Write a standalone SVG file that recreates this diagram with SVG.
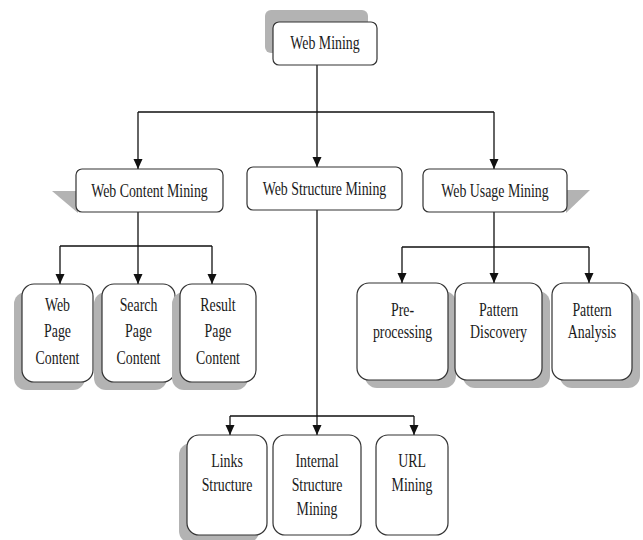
<svg xmlns="http://www.w3.org/2000/svg" width="643" height="540" viewBox="0 0 643 540">
<style>
.box{fill:#fff;stroke:#333;stroke-width:1.2}
.sh{fill:#b3b3b3;stroke:none}
.t{font-family:"Liberation Serif","Times New Roman",serif;font-size:18px;fill:#1a1a1a;text-anchor:middle}
.c{fill:none;stroke:#111;stroke-width:1.3}
</style>
<defs>
<marker id="ah" markerUnits="userSpaceOnUse" markerWidth="10" markerHeight="10" refX="10" refY="4.5" orient="auto">
<path d="M0,0 L10,4.5 L0,9 z" fill="#111"/>
</marker>
</defs>
<g id="connectors">
<path class="c" d="M317,65 V112 M138,112 H494"/>
<path class="c" d="M138,112 V169" marker-end="url(#ah)"/>
<path class="c" d="M317,112 V167" marker-end="url(#ah)"/>
<path class="c" d="M494,112 V169" marker-end="url(#ah)"/>
<path class="c" d="M138,212 V246 M60,246 H212"/>
<path class="c" d="M60,246 V284" marker-end="url(#ah)"/>
<path class="c" d="M138,246 V284" marker-end="url(#ah)"/>
<path class="c" d="M212,246 V284" marker-end="url(#ah)"/>
<path class="c" d="M317,210 V416 M230,416 H414"/>
<path class="c" d="M230,416 V435" marker-end="url(#ah)"/>
<path class="c" d="M317,416 V435" marker-end="url(#ah)"/>
<path class="c" d="M414,416 V435" marker-end="url(#ah)"/>
<path class="c" d="M494,212 V247 M402,247 H589"/>
<path class="c" d="M402,247 V283" marker-end="url(#ah)"/>
<path class="c" d="M494,247 V283" marker-end="url(#ah)"/>
<path class="c" d="M589,247 V283" marker-end="url(#ah)"/>
</g>
<g id="web-mining">
<rect class="sh" x="265" y="10" width="103" height="43" rx="6"/>
<rect class="box" x="273" y="22" width="104" height="43" rx="6"/>
<g transform="translate(325,0) scale(0.77,1)"><text class="t" x="0" y="49">Web Mining</text></g>
</g>
<g id="web-content-mining">
<polygon class="sh" points="52,191 77,191 78,213"/>
<rect class="box" x="76" y="169" width="147" height="43" rx="6"/>
<g transform="translate(149.5,0) scale(0.77,1)"><text class="t" x="0" y="197">Web Content Mining</text></g>
</g>
<g id="web-structure-mining">
<rect class="box" x="247" y="167" width="155" height="43" rx="6"/>
<g transform="translate(324.5,0) scale(0.77,1)"><text class="t" x="0" y="195">Web Structure Mining</text></g>
</g>
<g id="web-usage-mining">
<polygon class="sh" points="566,190 590,190 566,213"/>
<rect class="box" x="423" y="169" width="144" height="43" rx="6"/>
<g transform="translate(495,0) scale(0.77,1)"><text class="t" x="0" y="197">Web Usage Mining</text></g>
</g>
<g id="web-page-content">
<rect class="sh" x="14" y="292" width="71" height="98" rx="12"/>
<rect class="box" x="22" y="284" width="71" height="98" rx="12"/>
<g transform="translate(57.5,0) scale(0.77,1)"><text class="t" y="311"><tspan x="0">Web</tspan><tspan x="0" dy="26.5">Page</tspan><tspan x="0" dy="26.5">Content</tspan></text></g>
</g>
<g id="search-page-content">
<rect class="sh" x="94" y="292" width="73" height="98" rx="12"/>
<rect class="box" x="102" y="284" width="73" height="98" rx="12"/>
<g transform="translate(138.5,0) scale(0.77,1)"><text class="t" y="311"><tspan x="0">Search</tspan><tspan x="0" dy="26.5">Page</tspan><tspan x="0" dy="26.5">Content</tspan></text></g>
</g>
<g id="result-page-content">
<rect class="sh" x="172" y="292" width="76" height="98" rx="12"/>
<rect class="box" x="180" y="284" width="76" height="98" rx="12"/>
<g transform="translate(218,0) scale(0.77,1)"><text class="t" y="311"><tspan x="0">Result</tspan><tspan x="0" dy="26.5">Page</tspan><tspan x="0" dy="26.5">Content</tspan></text></g>
</g>
<g id="pre-processing">
<rect class="sh" x="365" y="291" width="91" height="97" rx="12"/>
<rect class="box" x="357" y="283" width="91" height="97" rx="12"/>
<g transform="translate(402.5,0) scale(0.77,1)"><text class="t" y="316"><tspan x="0">Pre-</tspan><tspan x="0" dy="22">processing</tspan></text></g>
</g>
<g id="pattern-discovery">
<rect class="sh" x="463" y="291" width="87" height="97" rx="12"/>
<rect class="box" x="455" y="283" width="87" height="97" rx="12"/>
<g transform="translate(498.5,0) scale(0.77,1)"><text class="t" y="316"><tspan x="0">Pattern</tspan><tspan x="0" dy="22">Discovery</tspan></text></g>
</g>
<g id="pattern-analysis">
<rect class="sh" x="560" y="291" width="80" height="97" rx="12"/>
<rect class="box" x="552" y="283" width="80" height="97" rx="12"/>
<g transform="translate(592,0) scale(0.77,1)"><text class="t" y="316"><tspan x="0">Pattern</tspan><tspan x="0" dy="22">Analysis</tspan></text></g>
</g>
<g id="links-structure">
<rect class="sh" x="179" y="443" width="80" height="100" rx="12"/>
<rect class="box" x="187" y="435" width="80" height="100" rx="12"/>
<g transform="translate(227,0) scale(0.77,1)"><text class="t" y="467"><tspan x="0">Links</tspan><tspan x="0" dy="24">Structure</tspan></text></g>
</g>
<g id="internal-structure-mining">
<rect class="box" x="273" y="435" width="88" height="100" rx="12"/>
<g transform="translate(317,0) scale(0.77,1)"><text class="t" y="467"><tspan x="0">Internal</tspan><tspan x="0" dy="24">Structure</tspan><tspan x="0" dy="24">Mining</tspan></text></g>
</g>
<g id="url-mining">
<rect class="box" x="376" y="435" width="72" height="100" rx="12"/>
<g transform="translate(412,0) scale(0.77,1)"><text class="t" y="467"><tspan x="0">URL</tspan><tspan x="0" dy="24">Mining</tspan></text></g>
</g>
</svg>
